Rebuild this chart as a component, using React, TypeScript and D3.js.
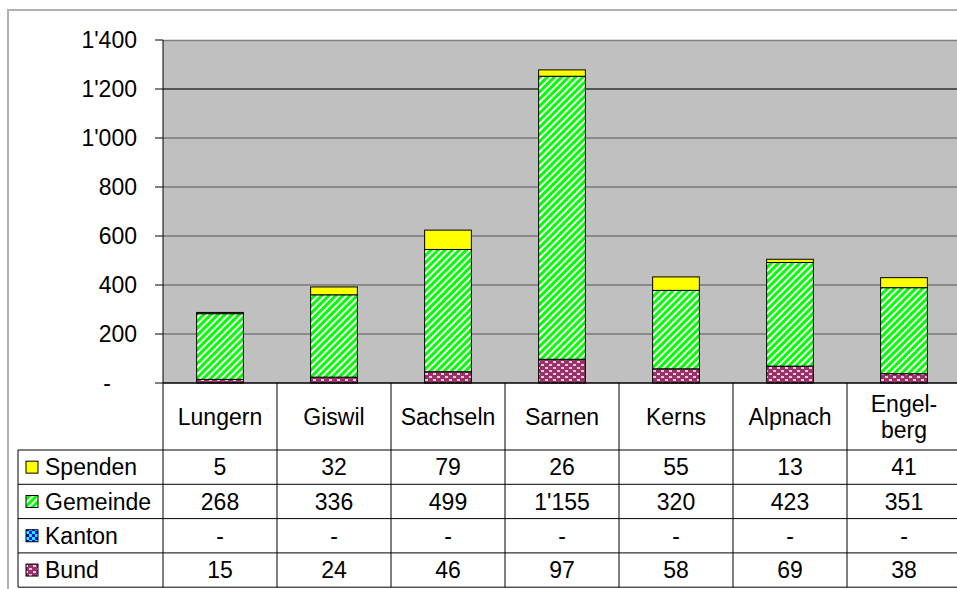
import React, { useRef, useEffect } from "react";
import * as d3 from "d3";

const categories = ["Lungern", "Giswil", "Sachseln", "Sarnen", "Kerns", "Alpnach", "Engel-\nberg"];
const seriesNames = ["Spenden", "Gemeinde", "Kanton", "Bund"];
const spenden = [5, 32, 79, 26, 55, 13, 41];
const gemeinde = [268, 336, 499, 1155, 320, 423, 351];
const kanton = [0, 0, 0, 0, 0, 0, 0];
const bund = [15, 24, 46, 97, 58, 69, 38];
const yTicks = [0, 200, 400, 600, 800, 1000, 1200, 1400];

const W = 957;
const H = 589;
const FONT = "Arial, 'Liberation Sans', sans-serif";
const FS = 23;

const App = () => {
    const ref = useRef<SVGSVGElement>(null);

    useEffect(() => {
        const svg = d3.select(ref.current);
        svg.selectAll("*").remove();

        const left = 163, right = 961, top = 40, bottom = 383;
        const tableLeft = 18;
        const rowTops = [450, 484.3, 518.6, 552.9, 587.2];

        const x = d3.scaleBand<string>().domain(categories).range([left, right]);
        const y = d3.scaleLinear().domain([0, 1400]).range([bottom, top]);

        const swiss = d3.formatLocale({ decimal: ".", thousands: "'", grouping: [3], currency: ["", ""] });
        const fmt = (v: number) => (v === 0 ? "-" : swiss.format(",")(v));

        // patterns
        const defs = svg.append("defs");
        const stripes = defs.append("pattern")
            .attr("id", "pat-gem")
            .attr("patternUnits", "userSpaceOnUse")
            .attr("width", 5).attr("height", 5)
            .attr("patternTransform", "rotate(45)");
        stripes.append("rect").attr("width", 5).attr("height", 5).attr("fill", "#ffffff");
        stripes.append("rect").attr("width", 3).attr("height", 5).attr("fill", "#00ff00");

        const dots = defs.append("pattern")
            .attr("id", "pat-bund")
            .attr("patternUnits", "userSpaceOnUse")
            .attr("width", 8).attr("height", 6);
        dots.append("rect").attr("width", 8).attr("height", 6).attr("fill", "#993366");
        dots.append("rect").attr("x", 1).attr("y", 1).attr("width", 3).attr("height", 2).attr("fill", "#f4c8e4");
        dots.append("rect").attr("x", 5).attr("y", 4).attr("width", 3).attr("height", 2).attr("fill", "#f4c8e4");

        const check = defs.append("pattern")
            .attr("id", "pat-kanton")
            .attr("patternUnits", "userSpaceOnUse")
            .attr("x", 29).attr("y", 0)
            .attr("width", 6).attr("height", 6);
        check.append("rect").attr("width", 6).attr("height", 6).attr("fill", "#0000ff");
        check.append("rect").attr("x", 0).attr("y", 0).attr("width", 3).attr("height", 3).attr("fill", "#00ffff");
        check.append("rect").attr("x", 3).attr("y", 3).attr("width", 3).attr("height", 3).attr("fill", "#00ffff");

        const fills: Record<string, string> = {
            Spenden: "#ffff00",
            Gemeinde: "url(#pat-gem)",
            Kanton: "url(#pat-kanton)",
            Bund: "url(#pat-bund)",
        };
        const values: Record<string, number[]> = {
            Spenden: spenden, Gemeinde: gemeinde, Kanton: kanton, Bund: bund,
        };

        // outer frame
        svg.append("path")
            .attr("d", `M8,${H} V10 H${W}`)
            .attr("fill", "none")
            .attr("stroke", "#b0b0b0")
            .attr("stroke-width", 2);

        // plot area
        svg.append("rect")
            .attr("x", left).attr("y", top)
            .attr("width", right - left).attr("height", bottom - top)
            .attr("fill", "#c0c0c0");
        svg.append("line")
            .attr("x1", left).attr("x2", right).attr("y1", top + 0.5).attr("y2", top + 0.5)
            .attr("stroke", "#808080").attr("stroke-width", 1.5);

        // grid
        svg.append("g").selectAll("line")
            .data(yTicks.filter(t => t > 0 && t < 1400))
            .join("line")
            .attr("x1", left).attr("x2", right)
            .attr("y1", d => y(d)).attr("y2", d => y(d))
            .attr("stroke", "#555").attr("stroke-width", d => (d === 1200 ? 2 : 1.2));

        // bars
        const rows = categories.map((c, i) => ({
            cat: c, Spenden: spenden[i], Gemeinde: gemeinde[i], Kanton: kanton[i], Bund: bund[i],
        }));
        const stack = d3.stack<any>().keys(["Bund", "Kanton", "Gemeinde", "Spenden"])(rows);
        const bw = x.bandwidth() * 0.41;
        stack.forEach(layer => {
            svg.append("g").selectAll("rect")
                .data(layer.filter(d => d[1] - d[0] > 0))
                .join("rect")
                .attr("x", d => x(d.data.cat)! + (x.bandwidth() - bw) / 2)
                .attr("width", bw)
                .attr("y", d => y(d[1]))
                .attr("height", d => y(d[0]) - y(d[1]))
                .attr("fill", fills[layer.key])
                .attr("stroke", "#000")
                .attr("stroke-width", 1);
        });

        // y axis
        const yAxis = svg.append("g");
        yAxis.append("line")
            .attr("x1", left).attr("x2", left).attr("y1", top).attr("y2", rowTops[4])
            .attr("stroke", "#000").attr("stroke-width", 1);
        yAxis.selectAll("line.tick")
            .data(yTicks)
            .join("line")
            .attr("class", "tick")
            .attr("x1", left - 8).attr("x2", left)
            .attr("y1", d => y(d)).attr("y2", d => y(d))
            .attr("stroke", "#000");
        yAxis.selectAll("text")
            .data(yTicks)
            .join("text")
            .attr("x", d => (d === 0 ? 107 : 137))
            .attr("y", d => y(d))
            .attr("dy", "0.36em")
            .attr("text-anchor", d => (d === 0 ? "middle" : "end"))
            .attr("font-family", FONT)
            .attr("font-size", FS)
            .text(d => fmt(d));

        // base line
        svg.append("line")
            .attr("x1", left).attr("x2", right).attr("y1", bottom).attr("y2", bottom)
            .attr("stroke", "#000").attr("stroke-width", 1.5);

        // data table
        const table = svg.append("g").attr("font-family", FONT).attr("font-size", FS);
        rowTops.forEach(ry => {
            table.append("line")
                .attr("x1", tableLeft).attr("x2", right).attr("y1", ry).attr("y2", ry)
                .attr("stroke", "#000").attr("stroke-width", 1);
        });
        table.append("line")
            .attr("x1", tableLeft).attr("x2", tableLeft).attr("y1", rowTops[0]).attr("y2", rowTops[4])
            .attr("stroke", "#000");
        categories.forEach(c => {
            const xr = x(c)! + x.bandwidth();
            table.append("line")
                .attr("x1", xr).attr("x2", xr).attr("y1", bottom).attr("y2", rowTops[4])
                .attr("stroke", "#000");
        });

        // category header
        categories.forEach(c => {
            const lines = c.split("\n");
            const cx = x(c)! + x.bandwidth() / 2;
            const mid = (bottom + rowTops[0]) / 2;
            lines.forEach((ln, k) => {
                table.append("text")
                    .attr("x", cx)
                    .attr("y", mid + (k - (lines.length - 1) / 2) * 26)
                    .attr("dy", "0.36em")
                    .attr("text-anchor", "middle")
                    .text(ln);
            });
        });

        // series rows
        seriesNames.forEach((s, r) => {
            const cy = (rowTops[r] + rowTops[r + 1]) / 2;
            table.append("rect")
                .attr("x", 26).attr("y", cy - 6)
                .attr("width", 12).attr("height", 12)
                .attr("fill", fills[s])
                .attr("stroke", "#000");
            table.append("text")
                .attr("x", 45).attr("y", cy).attr("dy", "0.36em")
                .text(s);
            values[s].forEach((v, i) => {
                table.append("text")
                    .attr("x", x(categories[i])! + x.bandwidth() / 2)
                    .attr("y", cy).attr("dy", "0.36em")
                    .attr("text-anchor", "middle")
                    .text(fmt(v));
            });
        });
    }, []);

    return (
        <svg
            ref={ref}
            width={W}
            height={H}
            style={{ position: "absolute", left: 0, top: 0, background: "#fff" }}
        />
    );
};

export default App;
